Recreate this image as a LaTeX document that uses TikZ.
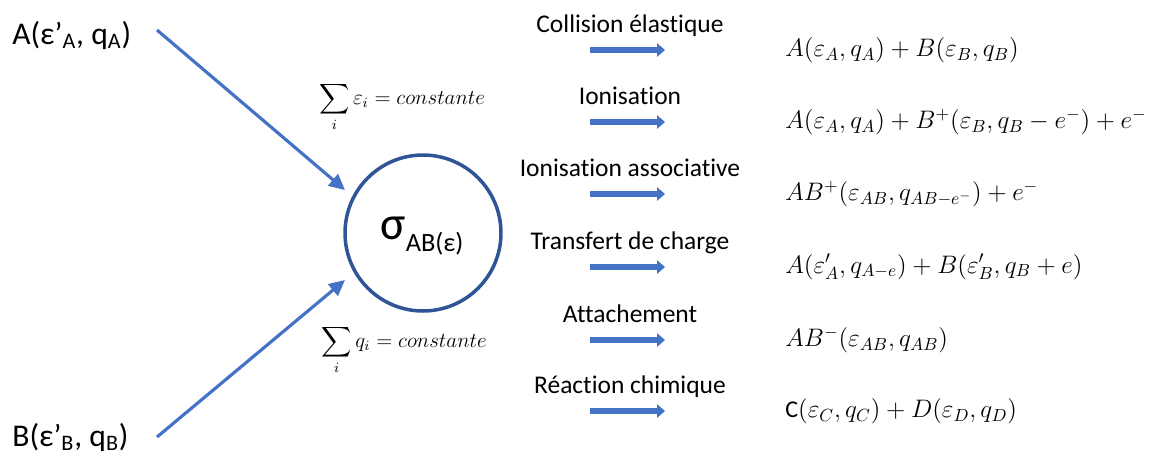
\documentclass[tikz,border=0pt]{standalone}
\usepackage{amsmath,amssymb}
\usepackage{fontspec}
\setmainfont{Carlito}[Ligatures=NoCommon]
\usepackage{xcolor}
\usetikzlibrary{arrows.meta, positioning, calc}
\definecolor{officeBlue}{HTML}{4472C4}
\definecolor{ringBlue}{HTML}{2F5597}

\begin{document}
\begin{tikzpicture}[x=0.02cm, y=-0.02cm,
    species/.style={anchor=west, inner sep=0pt, font=\fontsize{18}{21}\selectfont},
    proc/.style={anchor=base, inner sep=0pt, font=\fontsize{14.5}{17}\selectfont},
    prod/.style={anchor=west, inner sep=0pt, font=\fontsize{13.7}{16}\selectfont},
    cons/.style={inner sep=0pt, font=\fontsize{12}{14}\selectfont},
    feed/.style={-{Triangle[length=9pt, width=8.5pt]}, line width=1.8pt, officeBlue},
    blk/.style={-{Triangle[length=4.5pt, width=7.5pt]}, line width=3.6pt, draw=officeBlue}
  ]
  \useasboundingbox (0,0) rectangle (1164,458);
  % colliding partners
  \node[species] (pA) at (12,35) {A(ε’\textsubscript{A}, q\textsubscript{A})};
  \node[species] (pB) at (12,437) {B(ε’\textsubscript{B}, q\textsubscript{B})};
  % cross section
  \node[circle, draw=ringBlue, line width=2pt, minimum size=3.12cm, inner sep=0pt] (sig) at (423,233) {};
  \node[inner sep=0pt] (sigtxt) at (422,236) {\fontsize{27}{30}\selectfont σ\raisebox{-7pt}{\fontsize{15}{18}\selectfont AB(ε)}};
  \coordinate (a1) at (157,30);
  \coordinate (a2) at (345,190);
  \coordinate (b1) at (157,437);
  \coordinate (b2) at (345,280);
  \draw[feed] (a1) -- (a2);
  \draw[feed] (b1) -- (b2);
  % conservation
  \node[cons] (sumE) at (402,107) {$\displaystyle\sum_i \varepsilon_i = constante$};
  \node[cons] (sumQ) at (404,350) {$\displaystyle\sum_i q_i = constante$};
  % channels
  \foreach \i/\y/\lbl/\res in {
      1/50/Collision élastique/{$A(\varepsilon_A,q_A)+B(\varepsilon_B,q_B)$},
      2/122/Ionisation/{$A(\varepsilon_A,q_A)+B^{+}(\varepsilon_B,q_B-e^{-})+e^{-}$},
      3/194/Ionisation associative/{$AB^{+}(\varepsilon_{AB},q_{AB-e^{-}})+e^{-}$},
      4/267/Transfert de charge/{$A(\varepsilon'_A,q_{A-e})+B(\varepsilon'_B,q_B+e)$},
      5/340/Attachement/{$AB^{-}(\varepsilon_{AB},q_{AB})$},
      6/411/Réaction chimique/{C$(\varepsilon_C,q_C)+D(\varepsilon_D,q_D)$}} {
    \node[proc] (lab\i) at (630,\y-18) {\lbl};
    \coordinate (s\i) at (590,\y);
    \coordinate (e\i) at (665,\y);
    \draw[blk] (s\i) -- (e\i);
    \node[prod] (res\i) at (785,\y) {\res};
  }
\end{tikzpicture}
\end{document}
